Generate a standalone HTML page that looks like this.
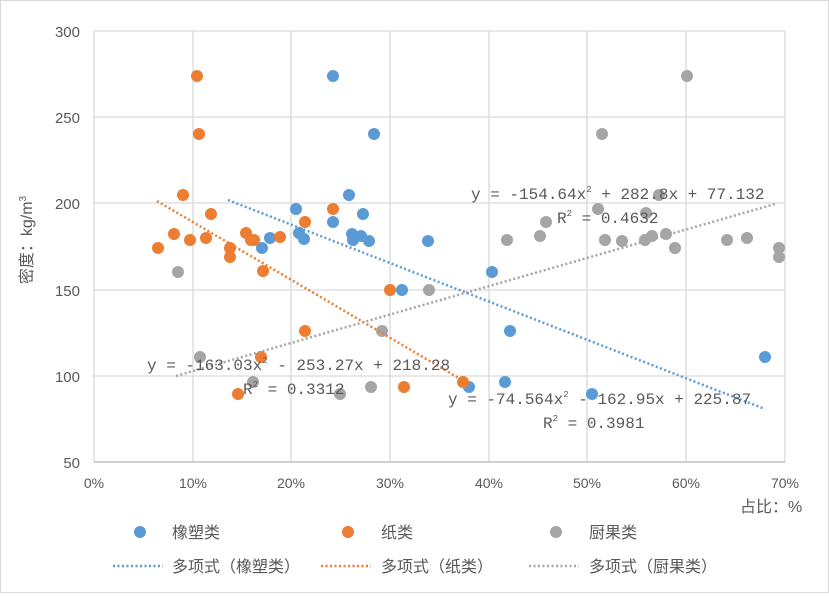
<!DOCTYPE html>
<html><head><meta charset="utf-8"><style>
body{margin:0;background:#fff}
svg text{font-family:"Liberation Sans","Noto Sans CJK SC",sans-serif;fill:#595959}
.m{font-family:"Liberation Mono","Noto Sans CJK SC",monospace;fill:#595959}
</style></head><body>
<svg width="829" height="593" xmlns="http://www.w3.org/2000/svg">
<rect x="0.5" y="0.5" width="828" height="592" fill="#fff" stroke="#d9d9d9"/>
<g stroke="#d9d9d9" stroke-width="1.3">
<line x1="94" y1="31" x2="785" y2="31"/><line x1="94" y1="117" x2="785" y2="117"/><line x1="94" y1="203" x2="785" y2="203"/><line x1="94" y1="290" x2="785" y2="290"/><line x1="94" y1="376" x2="785" y2="376"/>
<line x1="94" y1="31" x2="94" y2="462"/><line x1="193" y1="31" x2="193" y2="462"/><line x1="291" y1="31" x2="291" y2="462"/><line x1="390" y1="31" x2="390" y2="462"/><line x1="489" y1="31" x2="489" y2="462"/><line x1="587" y1="31" x2="587" y2="462"/><line x1="686" y1="31" x2="686" y2="462"/><line x1="785" y1="31" x2="785" y2="462"/>
</g>
<line x1="94" y1="462" x2="785" y2="462" stroke="#bfbfbf" stroke-width="1.5"/>
<g font-size="15" text-anchor="end">
<text x="80" y="37">300</text><text x="80" y="123">250</text><text x="80" y="209">200</text><text x="80" y="296">150</text><text x="80" y="382">100</text><text x="80" y="468">50</text></g>
<g font-size="14" text-anchor="middle">
<text x="94" y="488">0%</text><text x="193" y="488">10%</text><text x="291" y="488">20%</text><text x="390" y="488">30%</text><text x="489" y="488">40%</text><text x="587" y="488">50%</text><text x="686" y="488">60%</text><text x="785" y="488">70%</text></g>
<text x="740" y="512" font-size="16">占比：%</text>
<text transform="translate(32,240) rotate(-90)" font-size="16" text-anchor="middle">密度：kg/m<tspan font-size="10" dy="-6">3</tspan></text>
<g fill="#5b9bd5">
<circle cx="333" cy="76" r="6"/><circle cx="374" cy="134" r="6"/><circle cx="349" cy="195" r="6"/><circle cx="333" cy="222" r="6"/><circle cx="296" cy="209" r="6"/><circle cx="299" cy="233" r="6"/><circle cx="304" cy="239" r="6"/><circle cx="352" cy="234" r="6"/><circle cx="363" cy="214" r="6"/><circle cx="353" cy="240" r="6"/><circle cx="361" cy="236" r="6"/><circle cx="369" cy="241" r="6"/><circle cx="262" cy="248" r="6"/><circle cx="270" cy="238" r="6"/><circle cx="428" cy="241" r="6"/><circle cx="402" cy="290" r="6"/><circle cx="492" cy="272" r="6"/><circle cx="510" cy="331" r="6"/><circle cx="505" cy="382" r="6"/><circle cx="469" cy="387" r="6"/><circle cx="592" cy="394" r="6"/><circle cx="765" cy="357" r="6"/></g>
<g fill="#ed7d31">
<circle cx="197" cy="76" r="6"/><circle cx="199" cy="134" r="6"/><circle cx="183" cy="195" r="6"/><circle cx="211" cy="214" r="6"/><circle cx="158" cy="248" r="6"/><circle cx="174" cy="234" r="6"/><circle cx="190" cy="240" r="6"/><circle cx="206" cy="238" r="6"/><circle cx="230" cy="248" r="6"/><circle cx="230" cy="257" r="6"/><circle cx="246" cy="233" r="6"/><circle cx="254" cy="240" r="6"/><circle cx="251" cy="240" r="6"/><circle cx="263" cy="271" r="6"/><circle cx="280" cy="237" r="6"/><circle cx="305" cy="222" r="6"/><circle cx="333" cy="209" r="6"/><circle cx="305" cy="331" r="6"/><circle cx="261" cy="357" r="6"/><circle cx="238" cy="394" r="6"/><circle cx="390" cy="290" r="6"/><circle cx="404" cy="387" r="6"/><circle cx="463" cy="382" r="6"/></g>
<g fill="#a5a5a5">
<circle cx="178" cy="272" r="6"/><circle cx="200" cy="357" r="6"/><circle cx="253" cy="382" r="6"/><circle cx="340" cy="394" r="6"/><circle cx="371" cy="387" r="6"/><circle cx="382" cy="331" r="6"/><circle cx="429" cy="290" r="6"/><circle cx="687" cy="76" r="6"/><circle cx="602" cy="134" r="6"/><circle cx="598" cy="209" r="6"/><circle cx="546" cy="222" r="6"/><circle cx="540" cy="236" r="6"/><circle cx="507" cy="240" r="6"/><circle cx="605" cy="240" r="6"/><circle cx="645" cy="240" r="6"/><circle cx="622" cy="241" r="6"/><circle cx="652" cy="236" r="6"/><circle cx="666" cy="234" r="6"/><circle cx="675" cy="248" r="6"/><circle cx="727" cy="240" r="6"/><circle cx="747" cy="238" r="6"/><circle cx="779" cy="248" r="6"/><circle cx="779" cy="257" r="6"/><circle cx="659" cy="195" r="6"/><circle cx="646" cy="213" r="6"/></g>
<g stroke-width="2.5" stroke-dasharray="2 2.5" fill="none">
<line x1="228" y1="200" x2="765" y2="409" stroke="#5b9bd5"/>
<line x1="157" y1="201" x2="462" y2="380" stroke="#ed7d31"/>
<line x1="176" y1="376" x2="775" y2="204" stroke="#a5a5a5"/>
</g>
<g font-size="16" class="m">
<text class="m" x="471" y="199">y = -154.64x<tspan font-size="9" dy="-7">2</tspan><tspan dy="7"> + 282.8x + 77.132</tspan></text>
<text class="m" x="557" y="223">R<tspan font-size="9" dy="-7">2</tspan><tspan dy="7"> = 0.4632</tspan></text>
<text class="m" x="147" y="370">y = -163.03x<tspan font-size="9" dy="-7">2</tspan><tspan dy="7"> - 253.27x + 218.28</tspan></text>
<text class="m" x="243" y="394">R<tspan font-size="9" dy="-7">2</tspan><tspan dy="7"> = 0.3312</tspan></text>
<text class="m" x="448" y="404">y = -74.564x<tspan font-size="9" dy="-7">2</tspan><tspan dy="7"> - 162.95x + 225.87</tspan></text>
<text class="m" x="543" y="428">R<tspan font-size="9" dy="-7">2</tspan><tspan dy="7"> = 0.3981</tspan></text>
</g>
<circle cx="140" cy="532" r="6" fill="#5b9bd5"/><text x="172" y="538" font-size="16">橡塑类</text>
<circle cx="348" cy="532" r="6" fill="#ed7d31"/><text x="381" y="538" font-size="16">纸类</text>
<circle cx="556" cy="532" r="6" fill="#a5a5a5"/><text x="589" y="538" font-size="16">厨果类</text>
<g stroke-width="2.5" stroke-dasharray="2 2.5">
<line x1="113" y1="566" x2="163" y2="566" stroke="#5b9bd5"/>
<line x1="321" y1="566" x2="371" y2="566" stroke="#ed7d31"/>
<line x1="529" y1="566" x2="579" y2="566" stroke="#a5a5a5"/></g>
<text x="172" y="572" font-size="16">多项式（橡塑类）</text>
<text x="381" y="572" font-size="16">多项式（纸类）</text>
<text x="589" y="572" font-size="16">多项式（厨果类）</text>
</svg>
</body></html>
